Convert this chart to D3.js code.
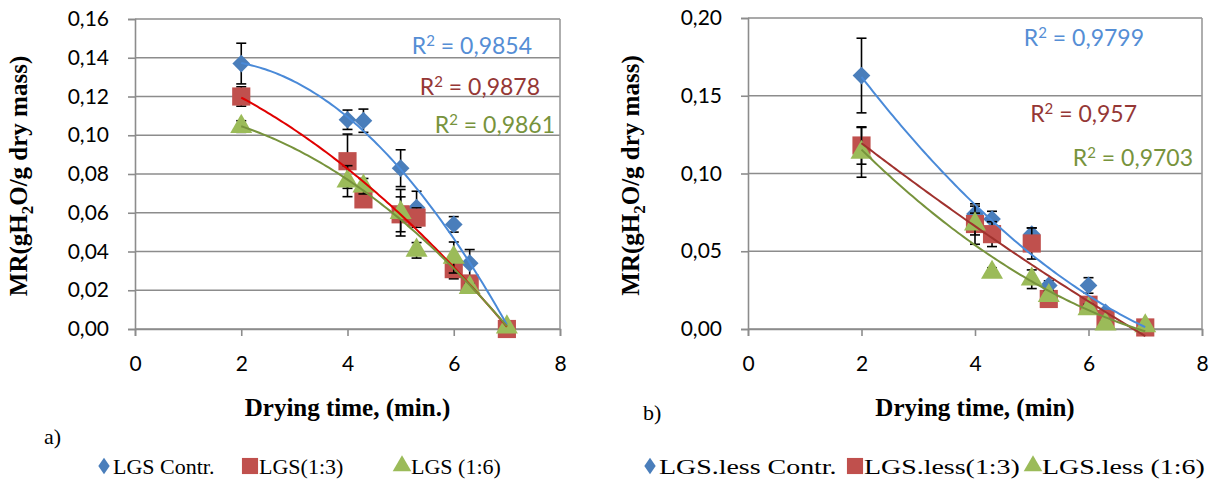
<!DOCTYPE html>
<html>
<head>
<meta charset="utf-8">
<script src="https://cdn.jsdelivr.net/npm/d3@7"></script>
<style>
  body { margin: 0; background: #fff; }
  svg { display: block; }
  .tick-lbl { font-family: Lato, "Open Sans", sans-serif; font-size: 21px; fill: #000; }
  .ttl { font-family: "Liberation Serif", "Times New Roman", serif; font-weight: bold; font-size: 25px; fill: #000; }
  .leg { font-family: "Liberation Serif", "Times New Roman", serif; font-size: 22px; fill: #000; }
  .r2 { font-family: Lato, "Open Sans", sans-serif; font-size: 23px; }
</style>
</head>
<body>
<script>
// drying time points (min)
var dryTime = [2, 4, 4.3, 5, 5.3, 6, 6.3, 7];
var xTicks = [0, 2, 4, 6, 8];

// chart a) LGS
var lgsContr    = [0.137, 0.108, 0.1075, 0.083, 0.0626, 0.054, 0.034, 0.001];
var lgsContrErr = [0.0105, 0.005, 0.006, 0.0095, 0.0085, 0.004, 0.007, 0];
var lgs13       = [0.120, 0.0866, 0.0669, 0.0592, 0.0575, 0.0309, 0.0235, 0];
var lgs13Err    = [0.005, 0.014, 0.004, 0.009, 0.005, 0.005, 0.003, 0];
var lgs16       = [0.1045, 0.0763, 0.0737, 0.060, 0.0406, 0.0369, 0.0214, 0.001];
var lgs16Err    = [0.003, 0.008, 0.004, 0.012, 0.004, 0.008, 0.002, 0];
var yTicksA = [0, 0.02, 0.04, 0.06, 0.08, 0.10, 0.12, 0.14, 0.16];
var r2A = ['0,9854', '0,9878', '0,9861'];
var namesA = ['LGS Contr.', 'LGS(1:3)', 'LGS (1:6)'];

// chart b) LGS.less
var lessContr    = [0.163, 0.074, 0.0707, 0.061, 0.028, 0.028, 0.0107, 0.001];
var lessContrErr = [0.024, 0.005, 0.005, 0.004, 0.003, 0.005, 0.002, 0];
var less13       = [0.118, 0.0675, 0.061, 0.055, 0.0193, 0.0156, 0.0064, 0.001];
var less13Err    = [0.012, 0.013, 0.008, 0.010, 0.003, 0.003, 0.002, 0];
var less16       = [0.1136, 0.0675, 0.0364, 0.032, 0.0214, 0.0129, 0.0032, 0.002];
var less16Err    = [0.016, 0.007, 0.003, 0.006, 0.003, 0.003, 0.002, 0];
var yTicksB = [0, 0.05, 0.10, 0.15, 0.20];
var r2B = ['0,9799', '0,957', '0,9703'];
var namesB = ['LGS.less Contr.', 'LGS.less(1:3)', 'LGS.less (1:6)'];

var markerFill = ['#4a7ebb', '#c0504d', '#9bbb59'];
var shapes = ['diamond', 'square', 'triangle'];
var r2Color = ['#558ed5', '#953735', '#77933c'];

var comma = d3.formatLocale({decimal: ',', thousands: '.', grouping: [3], currency: ['', '']});
var fmt2 = comma.format('.2f');

var svg = d3.select('body').append('svg')
  .attr('width', 1214).attr('height', 488);

// least squares polynomial (order 2) like the excel trendline
function quadFit(xs, ys) {
  var s = [0, 0, 0, 0, 0], t = [0, 0, 0];
  xs.forEach(function(x, i) {
    for (var k = 0; k < 5; k++) s[k] += Math.pow(x, k);
    for (var k = 0; k < 3; k++) t[k] += ys[i] * Math.pow(x, k);
  });
  function det(m) {
    return m[0][0]*(m[1][1]*m[2][2]-m[1][2]*m[2][1])
         - m[0][1]*(m[1][0]*m[2][2]-m[1][2]*m[2][0])
         + m[0][2]*(m[1][0]*m[2][1]-m[1][1]*m[2][0]);
  }
  var M = [[s[0], s[1], s[2]], [s[1], s[2], s[3]], [s[2], s[3], s[4]]];
  var D = det(M), c = [];
  for (var j = 0; j < 3; j++) {
    var Mj = M.map(function(row, r) { var rr = row.slice(); rr[j] = t[r]; return rr; });
    c.push(det(Mj) / D);
  }
  return function(x) { return c[0] + c[1]*x + c[2]*x*x; };
}

function symbolPath(shape, size) {
  if (shape === 'diamond') return d3.symbol(d3.symbolDiamond2, size)();
  if (shape === 'square') return d3.symbol(d3.symbolSquare, size)();
  return d3.symbol(d3.symbolTriangle, size)();
}

function drawChart(cfg) {
  var x = d3.scaleLinear().domain([0, 8]).range([cfg.left, cfg.right]);
  var y = d3.scaleLinear().domain([0, cfg.yMax]).range([cfg.bottom, cfg.top]);
  var g = svg.append('g');

  // gridlines
  g.selectAll('.grid').data(cfg.yTicks).enter().append('line')
    .attr('x1', cfg.left).attr('x2', cfg.right)
    .attr('y1', function(d) { return y(d); }).attr('y2', function(d) { return y(d); })
    .attr('stroke', '#8c8c8c').attr('stroke-width', 1.6);
  // right border
  g.append('line').attr('x1', cfg.right).attr('x2', cfg.right)
    .attr('y1', cfg.top).attr('y2', cfg.bottom)
    .attr('stroke', '#9a9a9a').attr('stroke-width', 1.6);

  // y axis
  var yAxis = d3.axisLeft(y).tickValues(cfg.yTicks).tickFormat(fmt2).tickSize(7).tickPadding(19);
  var ya = g.append('g').attr('transform', 'translate(' + cfg.left + ',0)').call(yAxis);
  // x axis
  var xAxis = d3.axisBottom(x).tickValues(xTicks).tickSize(7).tickPadding(20);
  var xa = g.append('g').attr('transform', 'translate(0,' + cfg.bottom + ')').call(xAxis);
  [ya, xa].forEach(function(a) {
    a.select('.domain').attr('stroke', '#8c8c8c').attr('stroke-width', 1.6);
    a.selectAll('.tick line').attr('stroke', '#8c8c8c').attr('stroke-width', 1.6);
    a.selectAll('.tick text').attr('class', 'tick-lbl').attr('font-size', null).attr('font-family', null);
  });
  ya.attr('font-size', null).attr('font-family', null);
  xa.attr('font-size', null).attr('font-family', null);

  // series: error bars then markers
  cfg.series.forEach(function(s, si) {
    var pts = dryTime.map(function(t, i) { return {t: t, v: s.vals[i], e: s.err[i]}; });
    var eb = g.append('g');
    pts.filter(function(d) { return d.e > 0; }).forEach(function(d) {
      var cx = x(d.t);
      eb.append('line').attr('x1', cx).attr('x2', cx)
        .attr('y1', y(d.v + d.e)).attr('y2', y(d.v - d.e))
        .attr('stroke', '#000').attr('stroke-width', 1.6);
      [d.v + d.e, d.v - d.e].forEach(function(v) {
        eb.append('line').attr('x1', cx - 5).attr('x2', cx + 5)
          .attr('y1', y(v)).attr('y2', y(v))
          .attr('stroke', '#000').attr('stroke-width', 1.6);
      });
    });
    g.append('g').selectAll('path').data(pts).enter().append('path')
      .attr('d', symbolPath(shapes[si], shapes[si] === 'square' ? 330 : (shapes[si] === 'diamond' ? 200 : 210)))
      .attr('transform', function(d) { return 'translate(' + x(d.t) + ',' + y(d.v) + ')'; })
      .attr('fill', markerFill[si]);
  });

  // trendlines
  cfg.series.forEach(function(s, si) {
    var f = quadFit(dryTime, s.vals);
    var xs = d3.range(2, 7.0001, 0.05);
    g.append('path')
      .datum(xs)
      .attr('d', d3.line().x(function(d) { return x(d); }).y(function(d) { return y(f(d)); }))
      .attr('fill', 'none').attr('stroke', cfg.trendColor[si]).attr('stroke-width', 2);
  });

  // r2 labels
  cfg.r2Pos.forEach(function(p, i) {
    var tx = g.append('text').attr('class', 'r2')
      .attr('x', p[0]).attr('y', p[1]).attr('text-anchor', 'end')
      .attr('fill', r2Color[i]);
    tx.append('tspan').text('R');
    tx.append('tspan').attr('dy', -8).attr('font-size', 15).text('2');
    tx.append('tspan').attr('dy', 8).text(' = ' + cfg.r2[i]);
  });

  // y title
  var yt = g.append('text').attr('class', 'ttl')
    .attr('transform', 'translate(' + cfg.yTitleX + ',' + ((cfg.top + cfg.bottom) / 2 + 2) + ') rotate(-90)')
    .attr('text-anchor', 'middle');
  yt.append('tspan').text('MR(gH');
  yt.append('tspan').attr('dy', 6).attr('font-size', 17).text('2');
  yt.append('tspan').attr('dy', -6).text('O/g dry mass)');

  // x title
  g.append('text').attr('class', 'ttl')
    .attr('x', (cfg.left + cfg.right) / 2).attr('y', 416)
    .attr('text-anchor', 'middle').text(cfg.xTitle);

  g.append('text').attr('class', 'leg').attr('x', cfg.tag[0]).attr('y', cfg.tag[1]).text(cfg.tag[2]);

  // legend
  cfg.names.forEach(function(n, i) {
    var lx = cfg.legX[i];
    g.append('path')
      .attr('d', symbolPath(shapes[i], shapes[i] === 'square' ? 260 : (shapes[i] === 'diamond' ? 170 : 150)))
      .attr('transform', 'translate(' + (lx + 7) + ',466)' + (shapes[i] === 'diamond' ? ' scale(0.7,1)' : ''))
      .attr('fill', markerFill[i]);
    g.append('text').attr('class', 'leg')
      .attr('transform', 'translate(' + (lx + 16) + ',474) scale(' + cfg.legSx + ',1)')
      .text(n);
  });
}

drawChart({
  left: 135, right: 560, top: 19, bottom: 329, yMax: 0.16, yTicks: yTicksA,
  series: [
    {vals: lgsContr, err: lgsContrErr},
    {vals: lgs13, err: lgs13Err},
    {vals: lgs16, err: lgs16Err}
  ],
  trendColor: ['#4a8ad8', '#e00000', '#77933c'],
  r2: r2A, r2Pos: [[532, 54], [540, 95], [555, 133]],
  yTitleX: 27, xTitle: 'Drying time, (min.)',
  tag: [44, 444, 'a)'],
  names: namesA, legX: [97, 243, 395], legSx: 1
});

drawChart({
  left: 748, right: 1202, top: 18, bottom: 329, yMax: 0.20, yTicks: yTicksB,
  series: [
    {vals: lessContr, err: lessContrErr},
    {vals: less13, err: less13Err},
    {vals: less16, err: less16Err}
  ],
  trendColor: ['#4a8ad8', '#a0322e', '#77933c'],
  r2: r2B, r2Pos: [[1144, 46], [1137, 122], [1193, 166]],
  yTitleX: 639, xTitle: 'Drying time, (min)',
  tag: [643, 420, 'b)'],
  names: namesB, legX: [643, 848, 1026], legSx: 1.27
});
</script>
</body>
</html>
